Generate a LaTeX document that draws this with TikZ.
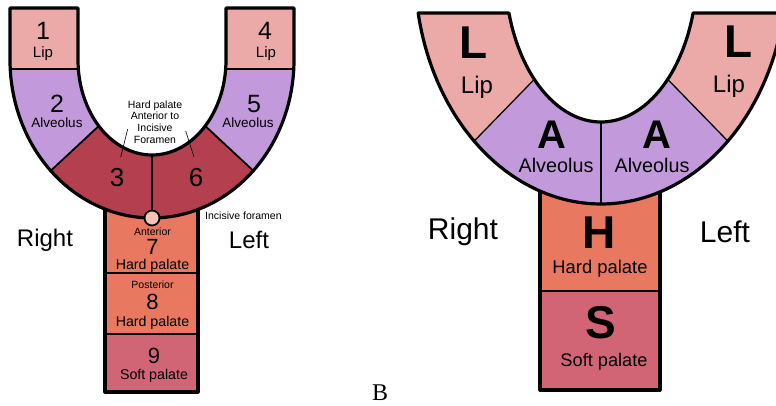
\documentclass[tikz,border=0pt]{standalone}
\usepackage{fontspec}
\setmainfont{Liberation Sans}
\newfontfamily\serifB{Liberation Serif}
\newcommand\myfs[1]{\fontsize{#1}{#1}\selectfont}
\definecolor{lipc}{HTML}{EBA9A8}
\definecolor{alvc}{HTML}{C29ADB}
\definecolor{hpac}{HTML}{B43F4F}
\definecolor{hardc}{HTML}{E87860}
\definecolor{softc}{HTML}{D16475}
\definecolor{forc}{HTML}{F3C3B8}
\begin{document}
\begin{tikzpicture}[x=1pt,y=-1pt,line join=round,
  outl/.style={line width=3.2pt},
  divl/.style={line width=1.8pt},
  thinl/.style={line width=1.3pt},
  lbl/.style={inner sep=0pt,text=black}]
\useasboundingbox (0,0) rectangle (776,405);
\clip (0,0) rectangle (776,405);

% ================= LEFT DIAGRAM =================
% stem
\fill[hardc] (105,195) rectangle (198,334);
\fill[softc] (105,334) rectangle (198,392);
\draw[divl] (105,273) -- (198,273);
\draw[divl] (105,334) -- (198,334);
\draw[outl] (105,195) -- (105,392) -- (198,392) -- (198,195);

% U regions
\fill[lipc] (10,8) rectangle (78,69);
\fill[lipc] (226,8) rectangle (294,69);
\fill[alvc] (10,69) -- plot[domain=180:135.5,samples=30] ({152+142*cos(\x)},{60+158*sin(\x)})
  -- plot[domain=136:180,samples=30] ({152+74*cos(\x)},{60+95*sin(\x)}) -- (78,69) -- cycle;
\fill[alvc] (294,69) -- plot[domain=0:44.5,samples=30] ({152+142*cos(\x)},{60+158*sin(\x)})
  -- plot[domain=44:0,samples=30] ({152+74*cos(\x)},{60+95*sin(\x)}) -- (226,69) -- cycle;
\fill[hpac] plot[domain=135.5:44.5,samples=60] ({152+142*cos(\x)},{60+158*sin(\x)})
  -- plot[domain=44:136,samples=60] ({152+74*cos(\x)},{60+95*sin(\x)}) -- cycle;

% dividers
\coordinate (oL) at ({152+142*cos(135.5)},{60+158*sin(135.5)});
\coordinate (iL) at ({152+74*cos(136)},{60+95*sin(136)});
\coordinate (oR) at ({152+142*cos(44.5)},{60+158*sin(44.5)});
\coordinate (iR) at ({152+74*cos(44)},{60+95*sin(44)});
\coordinate (mTop) at (152,155);
\coordinate (mBot) at (152,218);
\draw[divl] (10,69) -- (78,69);
\draw[divl] (226,69) -- (294,69);
\draw[divl] (oL) -- (iL);
\draw[divl] (oR) -- (iR);
\draw[divl] (mTop) -- (mBot);

% U outline
\draw[outl] (10,8) -- plot[domain=180:0,samples=90] ({152+142*cos(\x)},{60+158*sin(\x)})
  -- (294,8) -- (226,8) -- plot[domain=0:180,samples=70] ({152+74*cos(\x)},{60+95*sin(\x)})
  -- (78,8) -- cycle;

% incisive foramen
\node[circle,fill=forc,draw,line width=1.8pt,minimum size=15pt,inner sep=0pt] (forc) at (mBot) {};

% labels left
\node[lbl,font=\myfs{25}] (n1) at (43,31) {1};
\node[lbl,font=\myfs{15}] (lip1) at (43,54) {Lip};
\node[lbl,font=\myfs{25}] (n4) at (265,31) {4};
\node[lbl,font=\myfs{15}] (lip4) at (266,54) {Lip};
\node[lbl,font=\myfs{25}] (n2) at (57,104) {2};
\node[lbl,font=\myfs{13.5}] (alv2) at (57,123) {Alveolus};
\node[lbl,font=\myfs{25}] (n5) at (254,104) {5};
\node[lbl,font=\myfs{13.5}] (alv5) at (248,123) {Alveolus};
\node[lbl,font=\myfs{26}] (n3) at (117,178) {3};
\node[lbl,font=\myfs{26}] (n6) at (196,178) {6};
\node[lbl,font=\fontsize{10.5}{11.8}\selectfont,align=center] (ann) at (155,122)
  {Hard palate\\Anterior to\\Incisive\\Foramen};
\coordinate (a1s) at (127.7,129);
\coordinate (a1e) at (120.7,157);
\coordinate (a2s) at (185.7,131);
\coordinate (a2e) at (194,157);
\draw[line width=0.6pt] (a1s) -- (a1e);
\draw[line width=0.6pt] (a2s) -- (a2e);
\node[lbl,font=\myfs{10.5},anchor=west] (incf) at (205,216) {Incisive foramen};
\node[lbl,font=\myfs{10.5}] (ant) at (152.5,232) {Anterior};
\node[lbl,font=\myfs{22}] (n7) at (152.5,246.5) {7};
\node[lbl,font=\myfs{14.2}] (hp7) at (152.5,266) {Hard palate};
\node[lbl,font=\myfs{10.5}] (post) at (152.5,285) {Posterior};
\node[lbl,font=\myfs{22}] (n8) at (152.5,302) {8};
\node[lbl,font=\myfs{14.2}] (hp8) at (152.5,323) {Hard palate};
\node[lbl,font=\myfs{22}] (n9) at (154,356) {9};
\node[lbl,font=\myfs{14.2}] (sp9) at (154,376) {Soft palate};
\node[lbl,font=\myfs{24}] (rightL) at (45,240) {Right};
\node[lbl,font=\myfs{24}] (leftL) at (249,240) {Left};
\node[lbl,font=\serifB\myfs{24}] (B) at (380,393) {B};

% ================= RIGHT DIAGRAM =================
\fill[hardc] (540,180) rectangle (660,291);
\fill[softc] (540,291) rectangle (660,390);
\draw[divl] (540,291) -- (660,291);
\draw[outl] (540,180) -- (540,390) -- (660,390) -- (660,180);

\fill[lipc] plot[domain=169.4:133,samples=40] ({601+186*cos(\x)},{-30+234*sin(\x)})
  -- plot[domain=134:163.57,samples=30] ({601+96*cos(\x)},{-30+152*sin(\x)}) -- cycle;
\fill[lipc] plot[domain=10.6:47,samples=40] ({601+186*cos(\x)},{-30+234*sin(\x)})
  -- plot[domain=46:16.43,samples=30] ({601+96*cos(\x)},{-30+152*sin(\x)}) -- cycle;
\fill[alvc] plot[domain=133:47,samples=60] ({601+186*cos(\x)},{-30+234*sin(\x)})
  -- plot[domain=46:134,samples=60] ({601+96*cos(\x)},{-30+152*sin(\x)}) -- cycle;

\coordinate (roL) at ({601+186*cos(133)},{-30+234*sin(133)});
\coordinate (riL) at ({601+96*cos(134)},{-30+152*sin(134)});
\coordinate (roR) at ({601+186*cos(47)},{-30+234*sin(47)});
\coordinate (riR) at ({601+96*cos(46)},{-30+152*sin(46)});
\coordinate (rmTop) at (601,122);
\coordinate (rmBot) at (601,204);
\draw[thinl] (roL) -- (riL);
\draw[thinl] (roR) -- (riR);
\draw[thinl] (rmTop) -- (rmBot);

\draw[outl] plot[domain=169.4:10.6,samples=100] ({601+186*cos(\x)},{-30+234*sin(\x)})
  -- plot[domain=16.43:163.57,samples=80] ({601+96*cos(\x)},{-30+152*sin(\x)}) -- cycle;

% labels right
\node[lbl,font=\bfseries\myfs{46}] (L1) at (474,43) {L};
\node[lbl,font=\myfs{24}] (lipA) at (477,87) {Lip};
\node[lbl,font=\bfseries\myfs{46}] (L2) at (739,42) {L};
\node[lbl,font=\myfs{24}] (lipB) at (729,86) {Lip};
\node[lbl,font=\bfseries\myfs{40}] (A1) at (552,135) {A};
\node[lbl,font=\myfs{19.8}] (alvA) at (556,165) {Alveolus};
\node[lbl,font=\bfseries\myfs{40}] (A2) at (657,135) {A};
\node[lbl,font=\myfs{19.8}] (alvB) at (652,165) {Alveolus};
\node[lbl,font=\bfseries\myfs{46}] (H) at (599,233) {H};
\node[lbl,font=\myfs{18.4}] (hpH) at (600,269) {Hard palate};
\node[lbl,font=\bfseries\myfs{46}] (S) at (601,323) {S};
\node[lbl,font=\myfs{18.2}] (spS) at (604,362) {Soft palate};
\node[lbl,font=\myfs{30}] (rightR) at (463,232) {Right};
\node[lbl,font=\myfs{30}] (leftR) at (725,232) {Left};
\end{tikzpicture}
\end{document}
